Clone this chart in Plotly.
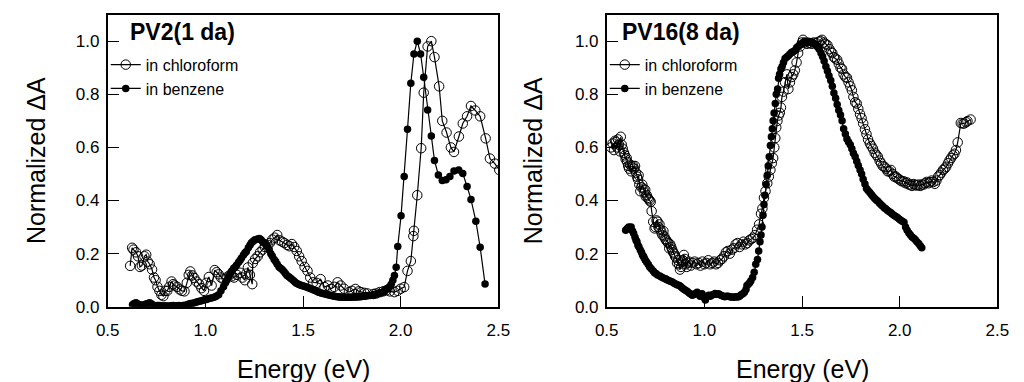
import plotly.graph_objects as go

# ---------------- data ----------------
# Left panel: PV2 (1 da)
pv2_chl_x = [0.615, 0.625, 0.632, 0.645, 0.655, 0.665, 0.675, 0.688, 0.697, 0.705, 0.715, 0.727, 0.737, 0.745,
             0.755, 0.765, 0.775, 0.785, 0.795, 0.805, 0.815, 0.827, 0.835, 0.843, 0.855, 0.868, 0.88, 0.893,
             0.905, 0.915, 0.923, 0.933, 0.943, 0.955, 0.968, 0.98, 0.993, 1.005, 1.018, 1.032, 1.048, 1.058,
             1.068, 1.08, 1.093, 1.108, 1.123, 1.135, 1.147, 1.162, 1.177, 1.19, 1.202, 1.21, 1.218, 1.228,
             1.24, 1.243, 1.255, 1.268, 1.28, 1.293, 1.305, 1.318, 1.33, 1.343, 1.355, 1.368, 1.38, 1.393,
             1.405, 1.418, 1.43, 1.443, 1.455, 1.468, 1.48, 1.493, 1.508, 1.523, 1.537, 1.552, 1.57, 1.59,
             1.61, 1.627, 1.643, 1.66, 1.677, 1.693, 1.71, 1.735, 1.75, 1.768, 1.785, 1.797, 1.815, 1.83,
             1.86, 1.875, 1.893, 1.91, 1.927, 1.945, 1.968, 1.985, 2.0, 2.018, 2.035, 2.052, 2.065, 2.068,
             2.085, 2.105, 2.118, 2.138, 2.157, 2.173, 2.197, 2.213, 2.235, 2.257, 2.273, 2.298, 2.318, 2.34,
             2.36, 2.382, 2.407, 2.435, 2.457, 2.482, 2.505]
pv2_chl_y = [0.154, 0.222, 0.215, 0.205, 0.19, 0.15, 0.155, 0.19, 0.196, 0.17, 0.16, 0.14, 0.11, 0.1,
             0.075, 0.06, 0.045, 0.04, 0.06, 0.06, 0.075, 0.095, 0.085, 0.08, 0.075, 0.065, 0.06, 0.058,
             0.09, 0.12, 0.133, 0.118, 0.108, 0.095, 0.085, 0.07, 0.06, 0.09, 0.112, 0.08, 0.138, 0.13,
             0.122, 0.11, 0.103, 0.11, 0.118, 0.115, 0.11, 0.12, 0.128, 0.11, 0.1, 0.125, 0.148, 0.12,
             0.085, 0.165, 0.18, 0.19, 0.205, 0.215, 0.225, 0.233, 0.24, 0.253, 0.26, 0.27, 0.25, 0.245,
             0.24, 0.233, 0.228, 0.236, 0.225, 0.21, 0.19, 0.172, 0.15, 0.135, 0.11, 0.092, 0.09, 0.104,
             0.074, 0.08, 0.067, 0.075, 0.092, 0.08, 0.068, 0.055, 0.06, 0.067, 0.058, 0.055, 0.052, 0.05,
             0.048, 0.05, 0.055, 0.058, 0.062, 0.058, 0.055, 0.06, 0.068, 0.074, 0.135, 0.172, 0.266, 0.286,
             0.42, 0.597, 0.806, 0.98, 1.0, 0.94, 0.83, 0.7, 0.656, 0.6, 0.583, 0.641, 0.69, 0.717,
             0.756, 0.739, 0.717, 0.634, 0.558, 0.539, 0.515]

pv2_ben_x = [0.627, 0.635, 0.645, 0.655, 0.665, 0.675, 0.685, 0.695, 0.705, 0.715, 0.725, 0.735, 0.745, 0.755,
             0.765, 0.775, 0.785, 0.795, 0.805, 0.815, 0.825, 0.835, 0.845, 0.855, 0.865, 0.875, 0.885, 0.895,
             0.905, 0.915, 0.925, 0.935, 0.945, 0.955, 0.965, 0.975, 0.985, 0.995, 1.005, 1.015, 1.025, 1.035,
             1.045, 1.055, 1.068, 1.08, 1.093, 1.103, 1.11, 1.12, 1.128, 1.135, 1.145, 1.153, 1.16, 1.17,
             1.178, 1.185, 1.195, 1.203, 1.21, 1.22, 1.228, 1.235, 1.243, 1.252, 1.26, 1.268, 1.277, 1.285,
             1.293, 1.3, 1.31, 1.318, 1.327, 1.335, 1.343, 1.352, 1.36, 1.368, 1.377, 1.385, 1.393, 1.402,
             1.41, 1.418, 1.427, 1.435, 1.443, 1.452, 1.46, 1.468, 1.477, 1.485, 1.493, 1.502, 1.51, 1.518,
             1.527, 1.535, 1.543, 1.552, 1.56, 1.568, 1.577, 1.585, 1.593, 1.602, 1.61, 1.618, 1.627, 1.635,
             1.643, 1.652, 1.66, 1.668, 1.677, 1.685, 1.693, 1.702, 1.71, 1.718, 1.727, 1.735, 1.743, 1.752,
             1.76, 1.768, 1.777, 1.785, 1.793, 1.802, 1.81, 1.818, 1.827, 1.835, 1.843, 1.852, 1.86, 1.868,
             1.877, 1.885, 1.893, 1.902, 1.91, 1.918, 1.927, 1.935, 1.943, 1.952, 1.96, 1.968, 1.977, 1.985,
             2.002, 2.018, 2.035, 2.052, 2.068, 2.085, 2.102, 2.118, 2.138, 2.157, 2.173, 2.193, 2.213, 2.232,
             2.252, 2.273, 2.297, 2.318, 2.34, 2.36, 2.385, 2.407, 2.432]
pv2_ben_y = [0.008, 0.012, 0.015, 0.01, 0.008, 0.005, 0.008, 0.01, 0.012, 0.015, 0.01, 0.006, 0.004, 0.005,
             0.005, 0.004, 0.003, 0.004, 0.003, 0.003, 0.004, 0.005, 0.004, 0.003, 0.005, 0.004, 0.005, 0.006,
             0.007, 0.01, 0.012, 0.013, 0.015, 0.018, 0.02, 0.022, 0.024, 0.026, 0.027, 0.03, 0.032, 0.034,
             0.036, 0.04, 0.045, 0.06, 0.075, 0.09, 0.1, 0.115, 0.125, 0.135, 0.145, 0.15, 0.157, 0.168,
             0.175, 0.184, 0.195, 0.203, 0.208, 0.222, 0.232, 0.24, 0.246, 0.251, 0.253, 0.255, 0.257, 0.252,
             0.245, 0.242, 0.235, 0.225, 0.215, 0.2, 0.19, 0.178, 0.17, 0.16, 0.15, 0.145, 0.14, 0.133,
             0.125, 0.118, 0.113, 0.108, 0.104, 0.098, 0.092, 0.088, 0.085, 0.082, 0.08, 0.078, 0.076, 0.074,
             0.072, 0.07, 0.067, 0.064, 0.062, 0.059, 0.056, 0.054, 0.052, 0.05, 0.049, 0.047, 0.045, 0.044,
             0.042, 0.041, 0.04, 0.039, 0.038, 0.037, 0.037, 0.036, 0.036, 0.036, 0.036, 0.036, 0.036, 0.037,
             0.037, 0.037, 0.037, 0.038, 0.038, 0.039, 0.04, 0.04, 0.041, 0.042, 0.042, 0.043, 0.044, 0.046,
             0.048, 0.05, 0.052, 0.054, 0.056, 0.06, 0.065, 0.07, 0.075, 0.085, 0.1, 0.118, 0.149, 0.227,
             0.343, 0.49, 0.668, 0.842, 0.952, 1.0, 0.952, 0.864, 0.741, 0.643, 0.551, 0.496, 0.475, 0.478,
             0.49, 0.511, 0.515, 0.502, 0.453, 0.404, 0.322, 0.224, 0.086]

# Right panel: PV16 (8 da)
pv16_chl_x = [0.522, 0.53, 0.537, 0.543, 0.547, 0.553, 0.558, 0.563, 0.568, 0.572, 0.577, 0.582, 0.588, 0.593,
              0.597, 0.602, 0.605, 0.61, 0.615, 0.62, 0.625, 0.63, 0.635, 0.64, 0.645, 0.65, 0.655, 0.66,
              0.663, 0.667, 0.672, 0.677, 0.682, 0.688, 0.693, 0.697, 0.7, 0.705, 0.71, 0.715, 0.72, 0.725,
              0.73, 0.738, 0.745, 0.75, 0.755, 0.76, 0.765, 0.77, 0.775, 0.78, 0.785, 0.79, 0.795, 0.8,
              0.805, 0.81, 0.815, 0.82, 0.825, 0.83, 0.835, 0.84, 0.845, 0.85, 0.855, 0.86, 0.865, 0.87,
              0.875, 0.88, 0.885, 0.89, 0.895, 0.9, 0.905, 0.91, 0.915, 0.92, 0.93, 0.94, 0.95, 0.96,
              0.97, 0.98, 0.99, 1.0, 1.01, 1.02, 1.03, 1.04, 1.05, 1.06, 1.07, 1.08, 1.09, 1.1,
              1.11, 1.12, 1.13, 1.14, 1.15, 1.16, 1.17, 1.18, 1.19, 1.2, 1.21, 1.22, 1.23, 1.24,
              1.25, 1.26, 1.27, 1.28, 1.29, 1.297, 1.305, 1.313, 1.322, 1.33, 1.338, 1.345, 1.352, 1.358,
              1.363, 1.368, 1.374, 1.38, 1.386, 1.392, 1.397, 1.405, 1.413, 1.422, 1.43, 1.438, 1.447, 1.455,
              1.463, 1.472, 1.48, 1.49, 1.5, 1.505, 1.515, 1.525, 1.538, 1.55, 1.56, 1.572, 1.585, 1.595,
              1.602, 1.612, 1.62, 1.63, 1.64, 1.648, 1.655, 1.663, 1.67, 1.68, 1.688, 1.697, 1.705, 1.713,
              1.722, 1.73, 1.738, 1.747, 1.755, 1.763, 1.772, 1.78, 1.788, 1.797, 1.805, 1.813, 1.822, 1.83,
              1.838, 1.847, 1.855, 1.863, 1.872, 1.88, 1.888, 1.897, 1.905, 1.913, 1.922, 1.93, 1.938, 1.947,
              1.955, 1.963, 1.972, 1.98, 1.988, 1.997, 2.005, 2.013, 2.022, 2.03, 2.038, 2.047, 2.055, 2.063,
              2.072, 2.08, 2.088, 2.097, 2.105, 2.113, 2.122, 2.13, 2.138, 2.147, 2.155, 2.163, 2.172, 2.18,
              2.188, 2.197, 2.205, 2.213, 2.222, 2.23, 2.238, 2.247, 2.255, 2.263, 2.272, 2.28, 2.288, 2.297,
              2.313, 2.322, 2.33, 2.34, 2.347, 2.363]
pv16_chl_y = [0.6, 0.615, 0.59, 0.625, 0.62, 0.6, 0.63, 0.61, 0.585, 0.64, 0.61, 0.595, 0.58, 0.57,
              0.555, 0.56, 0.545, 0.53, 0.52, 0.535, 0.51, 0.525, 0.53, 0.52, 0.53, 0.505, 0.49, 0.48,
              0.495, 0.46, 0.435, 0.45, 0.46, 0.445, 0.43, 0.44, 0.415, 0.42, 0.41, 0.405, 0.4, 0.395,
              0.36, 0.32, 0.295, 0.3, 0.325, 0.32, 0.3, 0.31, 0.29, 0.28, 0.27, 0.285, 0.265, 0.255,
              0.25, 0.245, 0.24, 0.22, 0.235, 0.225, 0.215, 0.205, 0.2, 0.19, 0.185, 0.165, 0.175, 0.16,
              0.14, 0.15, 0.17, 0.175, 0.195, 0.18, 0.16, 0.15, 0.165, 0.17, 0.155, 0.165, 0.17, 0.16,
              0.165, 0.155, 0.17, 0.16, 0.165, 0.175, 0.16, 0.165, 0.17, 0.16, 0.165, 0.175, 0.18, 0.19,
              0.205, 0.21, 0.2, 0.215, 0.22, 0.235, 0.24, 0.225, 0.235, 0.245, 0.235, 0.24, 0.25, 0.255,
              0.26, 0.27, 0.29, 0.31, 0.35, 0.37, 0.41, 0.435, 0.465, 0.49, 0.515, 0.54, 0.56, 0.6,
              0.635, 0.675, 0.7, 0.72, 0.73, 0.75, 0.79, 0.81, 0.845, 0.875, 0.82, 0.845, 0.865, 0.875,
              0.89, 0.92, 0.955, 0.98, 0.995, 1.005, 0.995, 0.99, 0.993, 0.99, 0.995, 0.993, 0.998, 1.0,
              1.005, 0.995, 0.99, 0.985, 0.97, 0.96, 0.955, 0.94, 0.935, 0.93, 0.915, 0.9, 0.895, 0.875,
              0.865, 0.862, 0.845, 0.83, 0.815, 0.79, 0.77, 0.765, 0.745, 0.725, 0.71, 0.69, 0.668, 0.65,
              0.63, 0.615, 0.605, 0.595, 0.58, 0.572, 0.565, 0.55, 0.54, 0.53, 0.527, 0.52, 0.51, 0.51,
              0.515, 0.5, 0.49, 0.49, 0.484, 0.48, 0.475, 0.472, 0.472, 0.465, 0.468, 0.46, 0.46, 0.455,
              0.462, 0.458, 0.457, 0.46, 0.455, 0.46, 0.46, 0.465, 0.47, 0.465, 0.469, 0.475, 0.47, 0.463,
              0.475, 0.49, 0.496, 0.505, 0.515, 0.52, 0.527, 0.54, 0.551, 0.56, 0.57, 0.576, 0.59, 0.619,
              0.692, 0.69, 0.69, 0.695, 0.699, 0.705]

pv16_ben_x = [0.597, 0.605, 0.613, 0.62, 0.625, 0.632, 0.638, 0.645, 0.65, 0.655, 0.66, 0.665, 0.672, 0.678,
              0.683, 0.688, 0.692, 0.698, 0.705, 0.713, 0.72, 0.728, 0.738, 0.745, 0.752, 0.76, 0.772, 0.78,
              0.79, 0.8, 0.805, 0.813, 0.822, 0.83, 0.838, 0.847, 0.855, 0.863, 0.872, 0.88, 0.888, 0.897,
              0.905, 0.913, 0.922, 0.93, 0.938, 0.947, 0.955, 0.963, 0.97, 0.978, 0.988, 0.997, 1.005, 1.013,
              1.022, 1.03, 1.038, 1.047, 1.055, 1.063, 1.072, 1.08, 1.088, 1.097, 1.105, 1.113, 1.122, 1.13,
              1.138, 1.147, 1.155, 1.163, 1.172, 1.18, 1.188, 1.197, 1.205, 1.213, 1.218, 1.225, 1.232, 1.238,
              1.247, 1.255, 1.263, 1.272, 1.278, 1.285, 1.29, 1.295, 1.3, 1.305, 1.31, 1.316, 1.322, 1.327,
              1.332, 1.338, 1.343, 1.348, 1.352, 1.357, 1.363, 1.368, 1.375, 1.38, 1.385, 1.392, 1.398, 1.405,
              1.413, 1.422, 1.43, 1.438, 1.447, 1.455, 1.463, 1.472, 1.48, 1.488, 1.497, 1.505, 1.513, 1.522,
              1.53, 1.538, 1.547, 1.555, 1.563, 1.572, 1.58, 1.588, 1.597, 1.605, 1.613, 1.622, 1.63, 1.638,
              1.647, 1.655, 1.663, 1.672, 1.68, 1.688, 1.697, 1.705, 1.713, 1.722, 1.73, 1.738, 1.747, 1.755,
              1.763, 1.772, 1.78, 1.788, 1.797, 1.805, 1.813, 1.822, 1.83, 1.838, 1.847, 1.855, 1.863, 1.872,
              1.88, 1.888, 1.897, 1.905, 1.913, 1.922, 1.93, 1.938, 1.947, 1.955, 1.963, 1.972, 1.98, 1.988,
              1.997, 2.005, 2.013, 2.022, 2.03, 2.038, 2.047, 2.055, 2.063, 2.072, 2.08, 2.088, 2.097, 2.105,
              2.113]
pv16_ben_y = [0.288, 0.295, 0.3, 0.298, 0.3, 0.285, 0.276, 0.262, 0.25, 0.245, 0.232, 0.225, 0.214, 0.205,
              0.195, 0.19, 0.184, 0.175, 0.168, 0.159, 0.15, 0.143, 0.135, 0.128, 0.125, 0.12, 0.116, 0.112,
              0.108, 0.105, 0.104, 0.1, 0.097, 0.095, 0.092, 0.088, 0.085, 0.082, 0.08, 0.075, 0.07, 0.065,
              0.061, 0.057, 0.052, 0.048, 0.043, 0.046, 0.05, 0.055, 0.048, 0.04, 0.049, 0.035, 0.025, 0.038,
              0.043, 0.04, 0.044, 0.046, 0.05, 0.047, 0.049, 0.045, 0.042, 0.04, 0.038, 0.04, 0.04, 0.038,
              0.037, 0.036, 0.037, 0.038, 0.037, 0.04, 0.045, 0.049, 0.055, 0.065, 0.08, 0.085, 0.09, 0.098,
              0.11, 0.13, 0.16, 0.178, 0.21, 0.245, 0.27, 0.3, 0.345, 0.385, 0.42, 0.46, 0.495, 0.53,
              0.565, 0.607, 0.64, 0.67, 0.7, 0.73, 0.765, 0.8, 0.82, 0.86, 0.875, 0.895, 0.905, 0.92,
              0.935, 0.94, 0.945, 0.952, 0.958, 0.96, 0.965, 0.975, 0.98, 0.985, 0.99, 0.995, 0.998, 0.995,
              1.0, 0.995, 0.998, 0.993, 0.99, 0.985, 0.978, 0.97, 0.955, 0.942, 0.925, 0.905, 0.888, 0.87,
              0.852, 0.83, 0.805, 0.785, 0.762, 0.74, 0.722, 0.7, 0.67, 0.65, 0.632, 0.62, 0.61, 0.595,
              0.578, 0.565, 0.548, 0.532, 0.515, 0.5, 0.48, 0.462, 0.445, 0.438, 0.43, 0.423, 0.415, 0.408,
              0.402, 0.397, 0.39, 0.384, 0.378, 0.372, 0.368, 0.362, 0.358, 0.354, 0.348, 0.344, 0.34, 0.336,
              0.33, 0.326, 0.322, 0.318, 0.3, 0.288, 0.278, 0.27, 0.263, 0.258, 0.252, 0.245, 0.238, 0.23,
              0.222]

x_ticks = [0.5, 1.0, 1.5, 2.0, 2.5]
x_tick_labels = ["0.5", "1.0", "1.5", "2.0", "2.5"]
y_ticks = [0.0, 0.2, 0.4, 0.6, 0.8, 1.0]
y_tick_labels = ["0.0", "0.2", "0.4", "0.6", "0.8", "1.0"]
series_names = ["in chloroform", "in benzene"]
panel_titles = ["PV2(1 da)", "PV16(8 da)"]
x_title = "Energy (eV)"
y_title = "Normalized ΔA"

# ---------------- figure ----------------
FONT = "Liberation Sans, Arial, Helvetica, sans-serif"
W, H = 1024, 382

fig = go.Figure()

def add_pair(cx, cy, bx, by, xa, ya, leg):
    fig.add_trace(go.Scatter(
        x=cx, y=cy, mode="lines+markers", name=series_names[0],
        xaxis=xa, yaxis=ya, legend=leg,
        line=dict(color="black", width=1.2),
        marker=dict(symbol="circle-open", size=9.5, color="black", line=dict(width=1))))
    fig.add_trace(go.Scatter(
        x=bx, y=by, mode="lines+markers", name=series_names[1],
        xaxis=xa, yaxis=ya, legend=leg,
        line=dict(color="black", width=1.2),
        marker=dict(symbol="circle", size=7.5, color="black")))

add_pair(pv2_chl_x, pv2_chl_y, pv2_ben_x, pv2_ben_y, "x", "y", "legend")
add_pair(pv16_chl_x, pv16_chl_y, pv16_ben_x, pv16_ben_y, "x2", "y2", "legend2")

ydom = [1 - 315 / H, 1 - 15 / H]
xdom1 = [98 / W, 498 / W]
xdom2 = [609 / W, 1009 / W]

def axis_common():
    return dict(ticks="inside", ticklen=11, tickwidth=1.3, tickcolor="black",
                showline=True, linecolor="black", linewidth=1.6, mirror=True,
                showgrid=False, zeroline=False,
                tickfont=dict(family=FONT, size=17, color="black"))

def xaxis(dom, anchor):
    return dict(domain=dom, anchor=anchor, range=[0.5, 2.5], tickmode="array",
                tickvals=x_ticks, ticktext=x_tick_labels, ticklabelstandoff=7,
                **axis_common())

def yaxis(anchor):
    return dict(domain=ydom, anchor=anchor, range=[0, 1.1], tickmode="array",
                tickvals=y_ticks, ticktext=y_tick_labels, ticklabelstandoff=3,
                **axis_common())

legend_common = dict(bgcolor="rgba(0,0,0,0)", borderwidth=0, itemwidth=30,
                     font=dict(family=FONT, size=16, color="black"),
                     xanchor="left", yanchor="top", tracegroupgap=0, itemclick=False)

fig.update_layout(
    width=W, height=H,
    margin=dict(l=0, r=0, t=0, b=0),
    paper_bgcolor="white", plot_bgcolor="white",
    font=dict(family=FONT, color="black"),
    xaxis=xaxis(xdom1, "y"), yaxis=yaxis("x"),
    xaxis2=xaxis(xdom2, "y2"), yaxis2=yaxis("x2"),
    legend=dict(x=96 / W, y=1 - 49 / H, **legend_common),
    legend2=dict(x=607 / W, y=1 - 49 / H, **legend_common),
)

# panel titles
for txt, xpx in zip(panel_titles, [119, 623]):
    fig.add_annotation(text="<b>" + txt + "</b>", xref="paper", yref="paper",
                       x=xpx / W, y=1 - 33 / H, xanchor="left", yanchor="middle",
                       showarrow=False, font=dict(family=FONT, size=23, color="black"))

# axis titles
for cx in [298, 809]:
    fig.add_annotation(text=x_title, xref="paper", yref="paper", x=cx / W, y=1 - 379 / H,
                       xanchor="center", yanchor="middle", showarrow=False,
                       font=dict(family=FONT, size=25, color="black"))
for cx in [24, 533]:
    fig.add_annotation(text=y_title, xref="paper", yref="paper", x=cx / W, y=1 - 165 / H,
                       xanchor="center", yanchor="middle", showarrow=False, textangle=-90,
                       font=dict(family=FONT, size=25, color="black"))

fig.write_html("out.html")
